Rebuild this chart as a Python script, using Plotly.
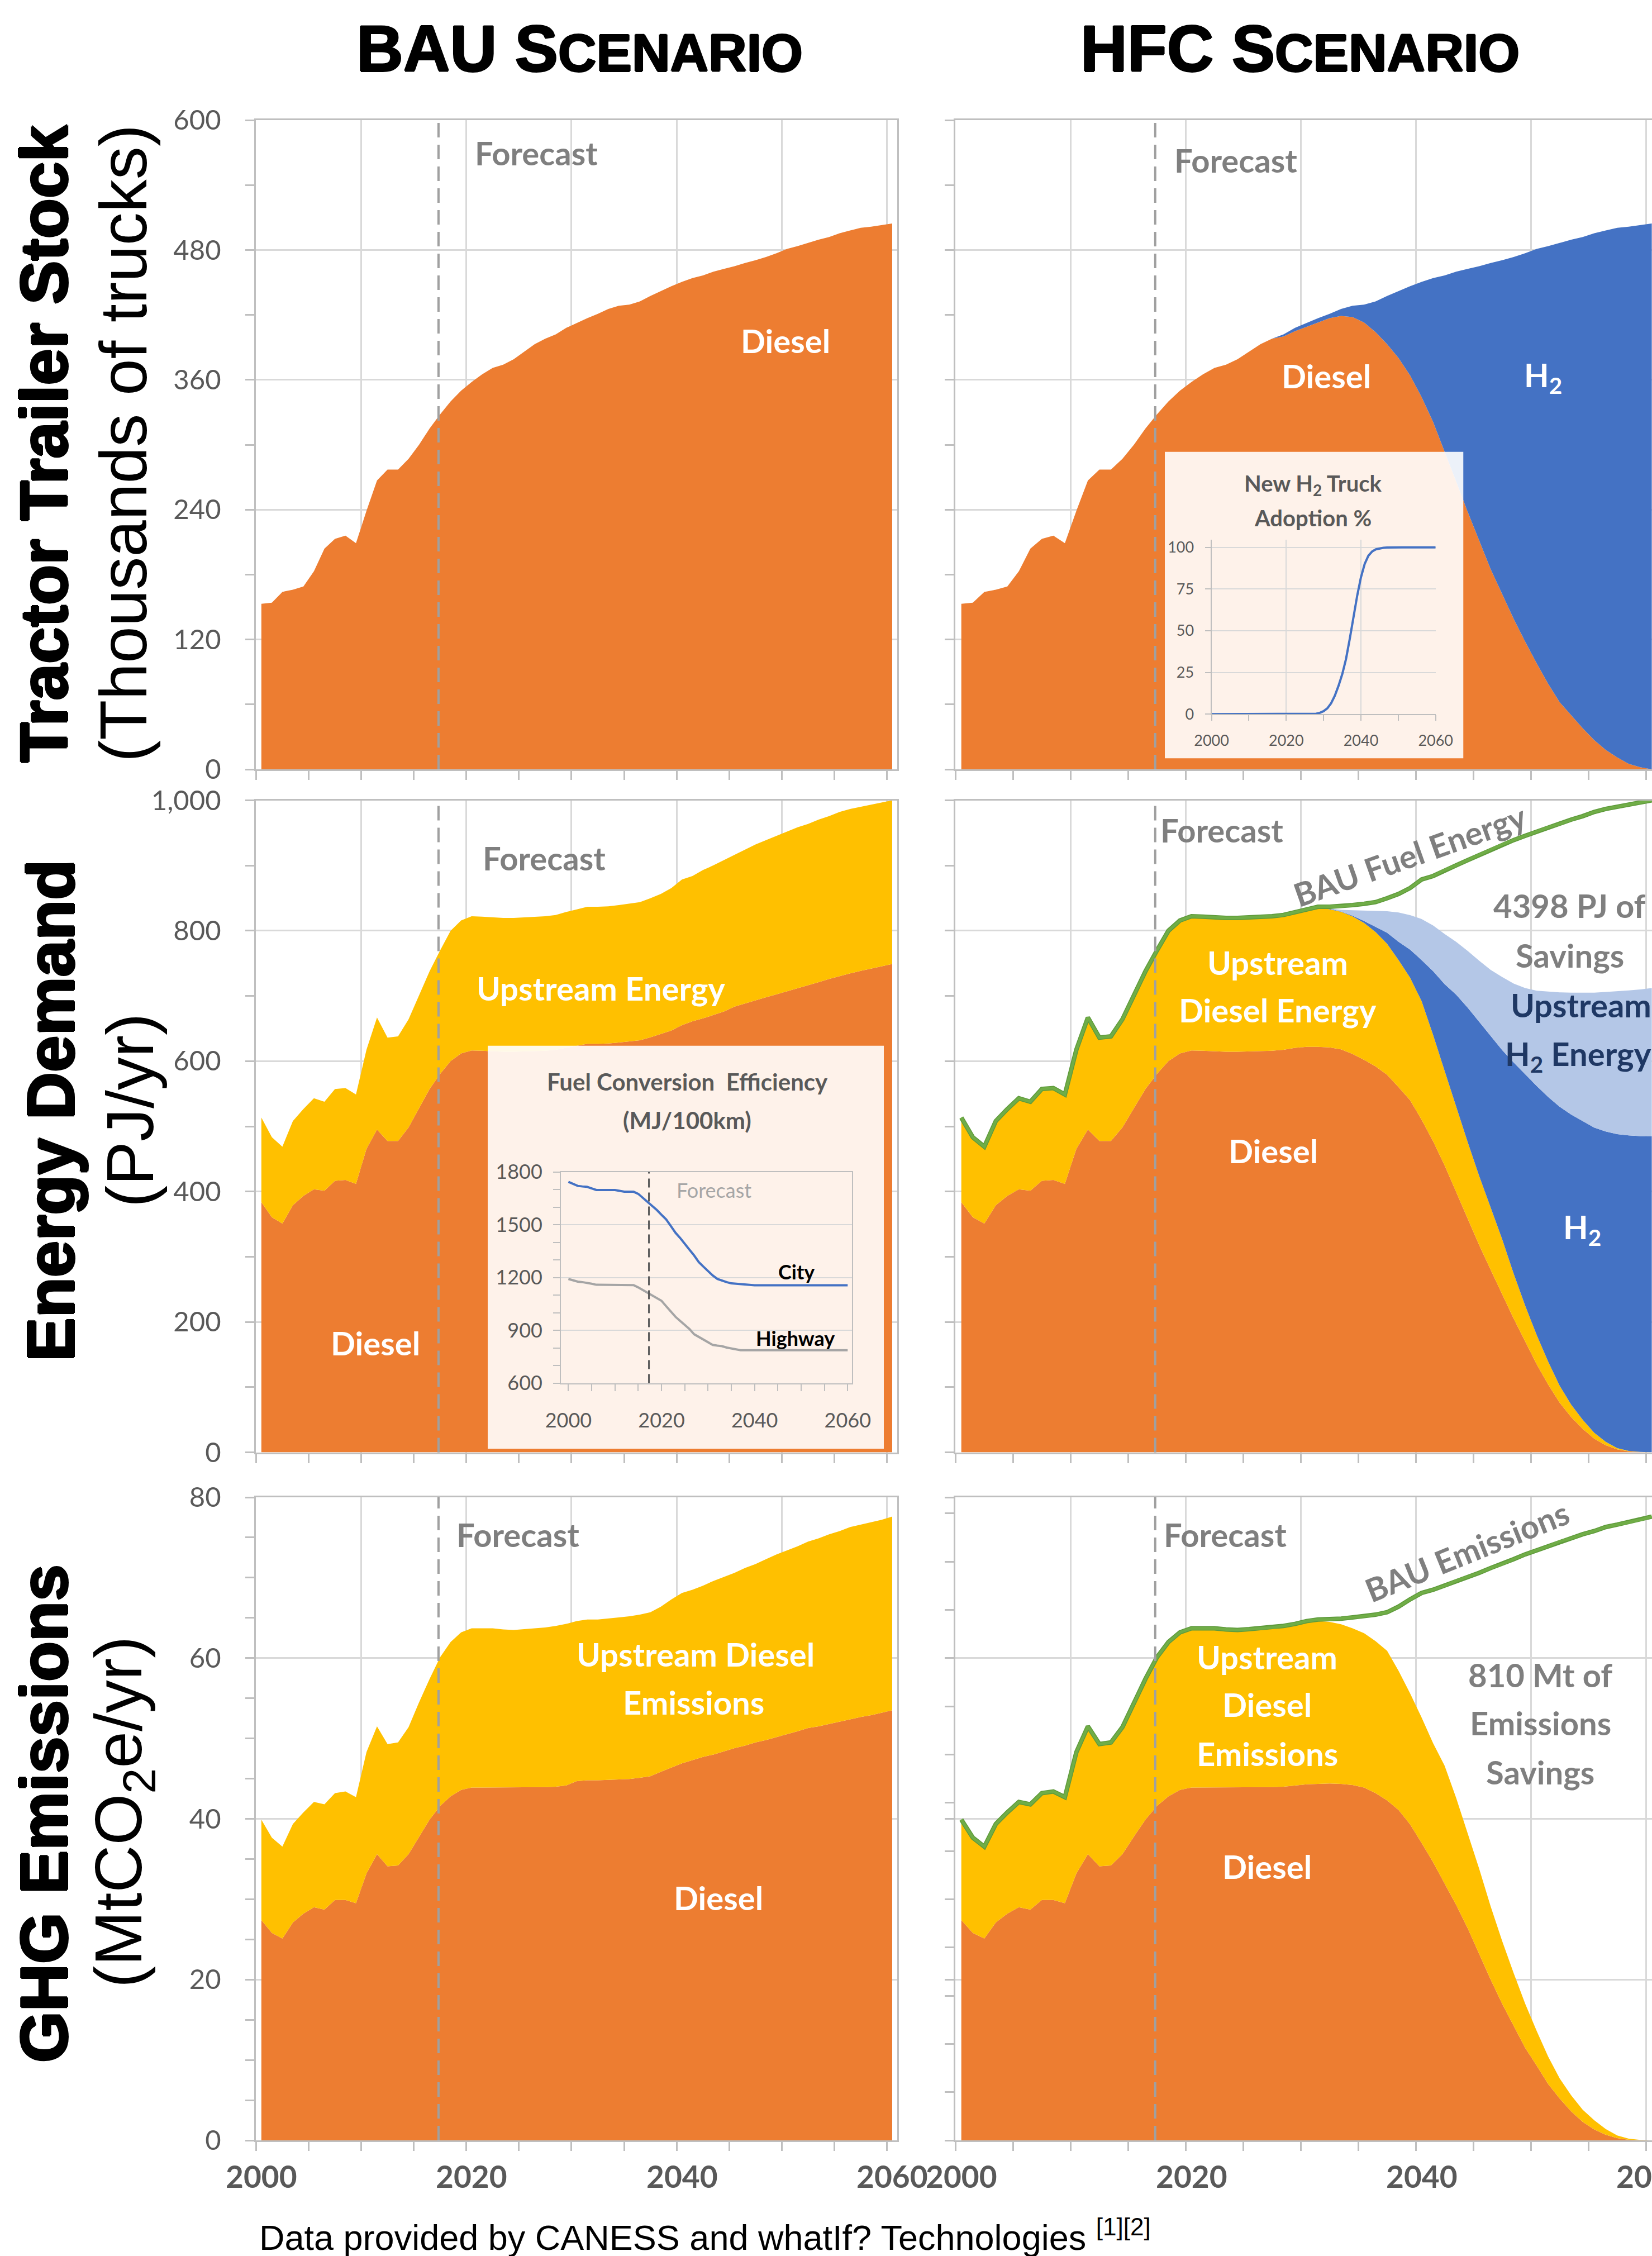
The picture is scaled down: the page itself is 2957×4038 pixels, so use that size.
import plotly.graph_objects as go

W, H = 2957, 4038
years = list(range(2000, 2061))

# ---------------- data ----------------
stock_bau_total = [153, 154, 164, 166, 169, 183, 204, 213, 216, 209,
                   239, 267, 277, 277, 287, 300, 315, 328, 340, 350,
                   358, 365, 371, 374, 379, 386, 393, 398, 402, 408,
                   412.5, 417, 421, 425.5, 428.5, 429.5, 432.5, 437.5, 442, 446.5,
                   450.5, 454, 456.5, 460, 462.5, 465, 468, 470.5, 473.5, 477,
                   481, 483.5, 486.5, 489.5, 492, 495.5, 498, 500.5, 501.5, 503,
                   504.5]
stock_hfc_diesel = stock_bau_total[:28] + [400, 405,
                   409, 413, 417, 419, 418, 413, 404, 393, 380, 364,
                   344, 321, 294, 266, 238, 211, 185, 162, 139, 118,
                   98, 79, 62, 50, 38, 27, 18, 11, 5, 2,
                   0]

energy_bau_diesel = [383.6, 360.6, 350.8, 379, 393.4, 403.3, 401.3, 416.4, 417.7, 411.8,
                     465.5, 495, 477.4, 477.4, 498.3, 527.8, 557.3, 580.3, 600, 611.8,
                     616.4, 616, 615, 614.5, 614.5, 615, 615.5, 616, 617.5, 620.5,
                     623.5, 626.5, 626.5, 627, 628.5, 630, 632, 636.5, 641.5, 647,
                     655, 661, 665.5, 670.5, 676, 683.5, 688.5, 693.5, 698, 702.5,
                     707, 711.5, 716, 721, 726, 730.5, 734.5, 738.5, 742, 745.5,
                     749]
energy_bau_total = [513.4, 483.3, 468.8, 508.2, 526.5, 543, 537.7, 557.3, 558.7, 548.8,
                    617.7, 666.9, 636, 638, 664.2, 701.6, 737.7, 769.8, 800, 815.7,
                    822.2, 821.6, 820.3, 819.6, 819.6, 820.3, 821.6, 822.2, 824.2, 828.8,
                    832.7, 836.7, 836.7, 837.3, 839.3, 841.3, 843.9, 849.8, 856.4, 865.5,
                    878.6, 883.9, 893, 900.3, 908.2, 916, 924.5, 932.4, 939, 945.5,
                    952, 958.6, 963.9, 970.4, 975.7, 982.2, 986.8, 990.1, 993.4, 996.7,
                    1000]
energy_hfc_diesel = energy_bau_diesel[:30] + [
    622, 622, 621, 618, 611, 602, 592, 579, 560, 540,
    510, 477, 440, 399, 358, 318, 280, 242, 205, 170,
    135, 104, 76, 54, 36, 21, 11, 4.5, 1.5, 0.5,
    0]
energy_hfc_upstream_diesel_top = energy_bau_total[:31] + [
    836, 833, 829, 822, 812, 798, 780, 755, 728,
    692, 640, 585, 530, 476, 424, 376, 327, 274, 225,
    180, 139, 102, 73, 50, 30, 16, 6.5, 2.2, 0.7,
    0]
energy_hfc_h2_top = energy_bau_total[:31] + [
    836.2, 833.7, 829.5, 823, 815, 806, 797, 783, 771,
    755, 738, 718, 702, 682, 660, 638, 617, 598, 580,
    562, 545, 530, 518, 508, 498, 492, 488, 486, 485,
    485]
energy_hfc_total = energy_bau_total[:31] + [
    836.4, 834, 832, 831.5, 831, 830.5, 830, 828, 824,
    818, 808, 795, 783, 769, 754, 740, 729, 719, 712,
    708, 706.5, 705.5, 705, 705, 705, 706, 707, 708.5, 710,
    712]

ghg_bau_total = [39.9, 37.66, 36.54, 39.36, 40.8, 42.1, 41.8, 43.2, 43.4, 42.7,
                 48.3, 51.5, 49.3, 49.5, 51.4, 54.5, 57.4, 60.1, 62.0, 63.2,
                 63.7, 63.7, 63.7, 63.56, 63.5, 63.6, 63.7, 63.8, 64.0, 64.25,
                 64.6, 64.8, 64.8, 64.9, 65.05, 65.2, 65.4, 65.7, 66.4, 67.3,
                 68.1, 68.5, 69.0, 69.6, 70.1, 70.6, 71.2, 71.7, 72.3, 72.9,
                 73.4, 73.9, 74.5, 74.9, 75.4, 75.8, 76.3, 76.6, 76.9, 77.2,
                 77.6]
ghg_bau_diesel = [27.4, 25.8, 25.1, 27.1, 28.2, 29.0, 28.7, 29.9, 29.9, 29.5,
                  33.2, 35.6, 34.1, 34.2, 35.6, 37.8, 39.9, 41.6, 42.8, 43.6,
                  43.9, 43.9, 43.9, 43.9, 43.9, 43.9, 43.9, 43.95, 44.0, 44.15,
                  44.7, 44.8, 44.8, 44.85, 44.9, 44.95, 45.1, 45.3, 45.85, 46.4,
                  46.9, 47.3, 47.7, 48.0, 48.4, 48.8, 49.1, 49.5, 49.8, 50.15,
                  50.5, 50.9, 51.3, 51.5, 51.8, 52.1, 52.4, 52.66, 52.9, 53.2,
                  53.5]
ghg_hfc_diesel = ghg_bau_diesel[:29] + [
    44.15,
    44.3, 44.35, 44.4, 44.35, 44.2, 43.9, 43.2, 42.3, 41.1, 39.3,
    37.0, 34.6, 32.0, 29.3, 26.4, 23.2, 20.0, 17.0, 14.2, 11.5,
    9.3, 7.0, 5.2, 3.6, 2.3, 1.35, 0.7, 0.27, 0.07, 0.02,
    0]
ghg_hfc_upstream_top = ghg_bau_total[:30] + [
    64.5, 64.6, 64.5, 64.2, 63.7, 63.1, 62.1, 60.9, 58.4, 55.6,
    52.6, 49.4, 46.6, 42.6, 38.2, 33.8, 29.1, 24.8, 20.8, 17.0,
    13.6, 10.4, 7.7, 5.6, 3.8, 2.5, 1.4, 0.6, 0.2, 0.06,
    0]

h2_adoption_pct = [0, 0, 0, 0, 0, 0, 0, 0, 0, 0,
                   0, 0, 0, 0, 0, 0, 0, 0, 0, 0,
                   0, 0, 0, 0, 0, 0, 0, 0, 0.3, 0.8,
                   1.8, 3.5, 6.5, 11, 17, 24, 33, 45, 58, 71,
                   82, 90, 95, 97.5, 98.8, 99.4, 99.7, 99.9, 100, 100,
                   100, 100, 100, 100, 100, 100, 100, 100, 100, 100,
                   100]
eff_city = [1744, 1732, 1721, 1718, 1716, 1707, 1698, 1698, 1698, 1698,
            1698, 1693, 1688, 1688, 1688, 1676, 1653, 1633, 1607, 1584,
            1557, 1531, 1493, 1455, 1425, 1394, 1359, 1326, 1288, 1262,
            1235, 1212, 1192, 1182, 1174, 1167, 1165, 1162, 1159, 1156,
            1156, 1156, 1156, 1156, 1156, 1156, 1156, 1156, 1156, 1156,
            1156, 1156, 1156, 1156, 1156, 1156, 1156, 1156, 1156, 1156,
            1156]
eff_highway = [1192, 1184, 1177, 1174, 1171, 1165, 1159, 1159, 1159, 1159,
               1159, 1159, 1159, 1159, 1157, 1144, 1129, 1113, 1098, 1083,
               1068, 1037, 1007, 977, 954, 931, 908, 878, 863, 848,
               832, 817, 813, 810, 802, 797, 791, 787, 787, 787,
               787, 787, 787, 787, 787, 787, 787, 787, 787, 787,
               787, 787, 787, 787, 787, 787, 787, 787, 787, 787,
               787]

x_tick_labels = [2000, 2020, 2040, 2060]
forecast_year = 2016.85

# ---------------- styling ----------------
ORANGE, YELLOW, BLUE, LBLUE, GREEN = '#ED7D31', '#FFC000', '#4472C4', '#B4C7E7', '#70AD47'
AXC = '#BFBFBF'
GRID = '#D9D9D9'
LBL = 'Lato, Open Sans, sans-serif'
ARIAL = 'Liberation Sans, Arial, sans-serif'
HEAVY = '2px 0 0 #000, -2px 0 0 #000, 0 2px 0 #000, 0 -2px 0 #000'
HEAVY_T = '1.5px 0 0 #000, -1.5px 0 0 #000, 0 1.5px 0 #000, 0 -1.5px 0 #000'


def px(x):
    return x / W


def py(y):
    return 1 - y / H


fig = go.Figure()

panels = {
    1: dict(x=(458.4, 1606.4), y=(215, 1377), xr=[1999.5, 2060.5], yr=[0, 600], dt=120, mdt=60, lab=True),
    2: dict(x=(1710.4, 2957), y=(215, 1377), xr=[1999.5, 2060.02], yr=[0, 600], dt=120, mdt=60, lab=False),
    3: dict(x=(458.4, 1606.4), y=(1432.5, 2599.5), xr=[1999.5, 2060.5], yr=[0, 1000], dt=200, mdt=100, lab=True),
    4: dict(x=(1710.4, 2957), y=(1432.5, 2599.5), xr=[1999.5, 2060.02], yr=[0, 1000], dt=200, mdt=100, lab=False),
    5: dict(x=(458.4, 1606.4), y=(2680, 3831), xr=[1999.5, 2060.5], yr=[0, 80], dt=20, mdt=5, lab=True),
    6: dict(x=(1710.4, 2957), y=(2680, 3831), xr=[1999.5, 2060.02], yr=[0, 80], dt=20, mdt=6, lab=False),
}

lay = {}


def axname(k, letter):
    return f'{letter}axis' if k == 1 else f'{letter}axis{k}'


def axref(k, letter):
    return letter if k == 1 else f'{letter}{k}'


for k, p in panels.items():
    lay[axname(k, 'x')] = dict(
        domain=[px(p['x'][0]), min(1.0, px(p['x'][1]))], range=p['xr'], anchor=axref(k, 'y'),
        tickmode='linear', tick0=1999.5, dtick=10, showgrid=True, gridcolor=GRID, gridwidth=2.5,
        ticks='outside', ticklen=16, tickwidth=2.5, tickcolor=AXC, showticklabels=False,
        showline=True, linecolor=AXC, linewidth=3, mirror=True, zeroline=False, fixedrange=True,
        automargin=False,
        minor=dict(tickmode='linear', tick0=1999.5, dtick=5, ticks='outside', ticklen=16,
                   tickwidth=2.5, tickcolor=AXC, showgrid=False))
    lay[axname(k, 'y')] = dict(
        domain=[py(p['y'][1]), py(p['y'][0])], range=p['yr'], anchor=axref(k, 'x'),
        tickmode='linear', tick0=0, dtick=p['dt'], showgrid=True, gridcolor=GRID, gridwidth=2.5,
        ticks='outside', ticklen=16, tickwidth=2.5, tickcolor=AXC, showticklabels=p['lab'],
        tickformat=',', tickfont=dict(family=LBL, size=49, color='#595959'), ticklabelstandoff=34,
        showline=True, linecolor=AXC, linewidth=3, mirror=True, zeroline=False, fixedrange=True,
        automargin=False,
        minor=dict(tickmode='linear', tick0=0, dtick=p['mdt'], ticks='outside', ticklen=16,
                   tickwidth=2.5, tickcolor=AXC, showgrid=False))

# inset boxes (semi-transparent white panels)
boxes = {7: ((2085, 2619.5), (808.5, 1357.5)), 9: ((873, 1582), (1871.5, 2593))}
for k, (bx, by) in boxes.items():
    lay[axname(k, 'x')] = dict(domain=[px(bx[0]), px(bx[1])], range=[0, 1], visible=False,
                               anchor=axref(k, 'y'), fixedrange=True, automargin=False)
    lay[axname(k, 'y')] = dict(domain=[py(by[1]), py(by[0])], range=[0, 1], visible=False,
                               anchor=axref(k, 'x'), fixedrange=True, automargin=False)
    fig.add_trace(go.Scatter(x=[0, 1, 1, 0, 0], y=[0, 0, 1, 1, 0], xaxis=axref(k, 'x'), yaxis=axref(k, 'y'),
                             mode='lines', line=dict(width=0), fill='toself',
                             fillcolor='rgba(255,255,255,0.9)', hoverinfo='skip'))

lay['xaxis8'] = dict(domain=[px(2168.6), px(2569.7)], range=[2000, 2060], anchor='y8',
                     tickmode='linear', tick0=2000, dtick=20, showgrid=True, gridcolor=GRID, gridwidth=2,
                     ticks='outside', ticklen=10, tickwidth=2, tickcolor=AXC,
                     tickfont=dict(family=LBL, size=27, color='#595959'), ticklabelstandoff=12,
                     showline=True, linecolor=AXC, linewidth=2, zeroline=False, fixedrange=True,
                     automargin=False,
                     minor=dict(tickmode='linear', tick0=2000, dtick=10, ticks='outside', ticklen=10,
                                tickwidth=2, tickcolor=AXC, showgrid=False))
lay['yaxis8'] = dict(domain=[py(1278.3), py(965.6)], range=[0, 104.7], anchor='x8',
                     tickmode='linear', tick0=0, dtick=25, showgrid=True, gridcolor=GRID, gridwidth=2,
                     ticks='outside', ticklen=10, tickwidth=2, tickcolor=AXC,
                     tickfont=dict(family=LBL, size=27, color='#595959'), ticklabelstandoff=14,
                     showline=True, linecolor=AXC, linewidth=2, zeroline=False, fixedrange=True,
                     automargin=False)
lay['xaxis10'] = dict(domain=[px(1004.1), px(1524.8)], range=[1998.4, 2060.9], anchor='y10',
                      tickmode='array', tickvals=x_tick_labels, showgrid=False,
                      ticks='outside', ticklen=12, tickwidth=2, tickcolor=AXC,
                      tickfont=dict(family=LBL, size=36, color='#595959'), ticklabelstandoff=22,
                      showline=True, linecolor=AXC, linewidth=2, mirror=True, zeroline=False, fixedrange=True,
                      automargin=False,
                      minor=dict(tickmode='linear', tick0=2000, dtick=5, ticks='outside', ticklen=12,
                                 tickwidth=2, tickcolor=AXC, showgrid=False))
lay['yaxis10'] = dict(domain=[py(2475.6), py(2097.8)], range=[600, 1800], anchor='x10',
                      tickmode='linear', tick0=600, dtick=300, showgrid=True, gridcolor=GRID, gridwidth=2,
                      ticks='outside', ticklen=12, tickwidth=2, tickcolor=AXC,
                      tickfont=dict(family=LBL, size=36, color='#595959'), ticklabelstandoff=12,
                      showline=True, linecolor=AXC, linewidth=2, mirror=True, zeroline=False, fixedrange=True,
                      automargin=False,
                      minor=dict(tickmode='linear', tick0=600, dtick=100, ticks='outside', ticklen=12,
                                 tickwidth=2, tickcolor=AXC, showgrid=False))


def band(k, yvals, color, fill):
    fig.add_trace(go.Scatter(x=years, y=yvals, xaxis=axref(k, 'x'), yaxis=axref(k, 'y'), mode='lines',
                             line=dict(width=0, color=color), fill=fill, fillcolor=color, hoverinfo='skip'))


def line(k, yvals, color, width):
    fig.add_trace(go.Scatter(x=years, y=yvals, xaxis=axref(k, 'x'), yaxis=axref(k, 'y'), mode='lines',
                             line=dict(width=width, color=color), hoverinfo='skip'))


band(1, stock_bau_total, ORANGE, 'tozeroy')
band(2, stock_hfc_diesel, ORANGE, 'tozeroy')
band(2, stock_bau_total, BLUE, 'tonexty')
band(3, energy_bau_diesel, ORANGE, 'tozeroy')
band(3, energy_bau_total, YELLOW, 'tonexty')
band(4, energy_hfc_diesel, ORANGE, 'tozeroy')
band(4, energy_hfc_upstream_diesel_top, YELLOW, 'tonexty')
band(4, energy_hfc_h2_top, BLUE, 'tonexty')
band(4, energy_hfc_total, LBLUE, 'tonexty')
line(4, energy_bau_total, '#5E9A3B', 8)
line(4, energy_bau_total, GREEN, 5)
band(5, ghg_bau_diesel, ORANGE, 'tozeroy')
band(5, ghg_bau_total, YELLOW, 'tonexty')
band(6, ghg_hfc_diesel, ORANGE, 'tozeroy')
band(6, ghg_hfc_upstream_top, YELLOW, 'tonexty')
line(6, ghg_bau_total, '#5E9A3B', 8)
line(6, ghg_bau_total, GREEN, 5)
line(8, h2_adoption_pct, BLUE, 4)
line(10, eff_city, BLUE, 4)
line(10, eff_highway, '#A5A5A5', 4)

shapes = []
for k in range(1, 7):
    shapes.append(dict(type='line', xref=axref(k, 'x'), yref=axref(k, 'y') + ' domain',
                       x0=forecast_year, x1=forecast_year, y0=0, y1=1,
                       line=dict(color='#A0A0A0', width=4, dash='26px,13px'), layer='above'))
shapes.append(dict(type='line', xref='x10', yref='y10 domain', x0=2017.3, x1=2017.3, y0=0, y1=1,
                   line=dict(color='#595959', width=3, dash='16px,9px'), layer='above'))

annotations = []


def label(text, x, y, size=58, color='white', bold=True, angle=0, family=LBL, xanchor='center', shadow=None):
    t = f'<b>{text}</b>' if bold else text
    font = dict(family=family, size=size, color=color)
    if shadow:
        font['shadow'] = shadow
    annotations.append(dict(text=t, x=px(x), y=py(y), xref='paper', yref='paper', showarrow=False,
                            xanchor=xanchor, yanchor='middle', textangle=angle, font=font))


GRAY = '#7F7F7F'
label("BAU S<span style='font-size:95px'>CENARIO</span>", 1037, 87, size=116, color='black', family=ARIAL,
      shadow=HEAVY_T)
label("HFC S<span style='font-size:95px'>CENARIO</span>", 2327, 87, size=116, color='black', family=ARIAL,
      shadow=HEAVY_T)
label('Tractor Trailer Stock', 79, 794, size=118, color='black', angle=-90, family=ARIAL, shadow=HEAVY)
label('(Thousands of trucks)', 221, 794, size=118, color='black', bold=False, angle=-90, family=ARIAL)
label('Energy Demand', 91, 1988, size=118, color='black', angle=-90, family=ARIAL, shadow=HEAVY)
label('(PJ/yr)', 233, 1988, size=118, color='black', bold=False, angle=-90, family=ARIAL)
label('GHG Emissions', 79, 3246, size=118, color='black', angle=-90, family=ARIAL, shadow=HEAVY)
label('(MtCO<sub>2</sub>e/yr)', 221, 3244, size=118, color='black', bold=False, angle=-90, family=ARIAL)

label('Forecast', 960, 274, color=GRAY)
label('Diesel', 1406, 609)
label('Forecast', 2212, 287, color=GRAY)
label('Diesel', 2374, 673)
label('H<sub>2</sub>', 2762, 675)
label('New H<sub>2</sub> Truck', 2350, 867, size=40, color='#595959')
label('Adoption %', 2350, 927, size=40, color='#595959')

label('Forecast', 974, 1535, color=GRAY)
label('Upstream Energy', 1075, 1768)
label('Diesel', 672, 2403)
label('Fuel Conversion  Efficiency', 1230, 1936, size=42, color='#595959')
label('(MJ/100km)', 1230, 2005, size=42, color='#595959')
label('Forecast', 1278, 2130, size=36, color='#A6A6A6', bold=False)
label('City', 1425, 2276, size=36, color='black')
label('Highway', 1423, 2395, size=36, color='black')

label('Forecast', 2187, 1485, color=GRAY)
label('BAU Fuel Energy', 2523, 1530, color=GRAY, angle=-19.5)
label('4398 PJ of', 2809, 1620, color=GRAY)
label('Savings', 2810, 1709, color=GRAY)
label('Upstream', 2830, 1799, color='#1F3864')
label('H<sub>2</sub> Energy', 2825, 1890, color='#1F3864')
label('H<sub>2</sub>', 2832, 2200)
label('Upstream', 2287, 1722)
label('Diesel Energy', 2287, 1808)
label('Diesel', 2279, 2059)

label('Forecast', 926.5, 2746.5, color=GRAY)
label('Upstream Diesel', 1244.6, 2960)
label('Emissions', 1241.5, 3046.5)
label('Diesel', 1286, 3396)

label('Forecast', 2193, 2746.5, color=GRAY)
label('BAU Emissions', 2625, 2776, color=GRAY, angle=-22)
label('810 Mt of', 2757, 2997, color=GRAY)
label('Emissions', 2757, 3083, color=GRAY)
label('Savings', 2757, 3171, color=GRAY)
label('Upstream', 2268, 2965)
label('Diesel', 2268, 3050)
label('Emissions', 2268, 3138)
label('Diesel', 2268, 3340)

for k in (5, 6):
    for v in x_tick_labels:
        annotations.append(dict(text=f'<b>{v}</b>', x=v, y=py(3895), xref=axref(k, 'x'), yref='paper',
                                showarrow=False, xanchor='center', yanchor='middle',
                                font=dict(family=LBL, size=55, color='#595959')))

annotations.append(dict(text='Data provided by CANESS and whatIf? Technologies <sup>[1][2]</sup>',
                        x=px(462), y=py(4000), xref='paper', yref='paper', showarrow=False,
                        xanchor='left', yanchor='middle', font=dict(family=ARIAL, size=63, color='black')))

fig.update_layout(template='none', width=W, height=H,
                  margin=dict(l=0, r=0, t=0, b=0, pad=0, autoexpand=False), autosize=False,
                  paper_bgcolor='white', plot_bgcolor='rgba(0,0,0,0)', showlegend=False,
                  shapes=shapes, annotations=annotations, **lay)

fig.write_html("out.html", config={'displayModeBar': False},
               post_script="document.body.style.margin='0';document.body.style.padding='0';"
                           "document.documentElement.style.overflow='hidden';")
